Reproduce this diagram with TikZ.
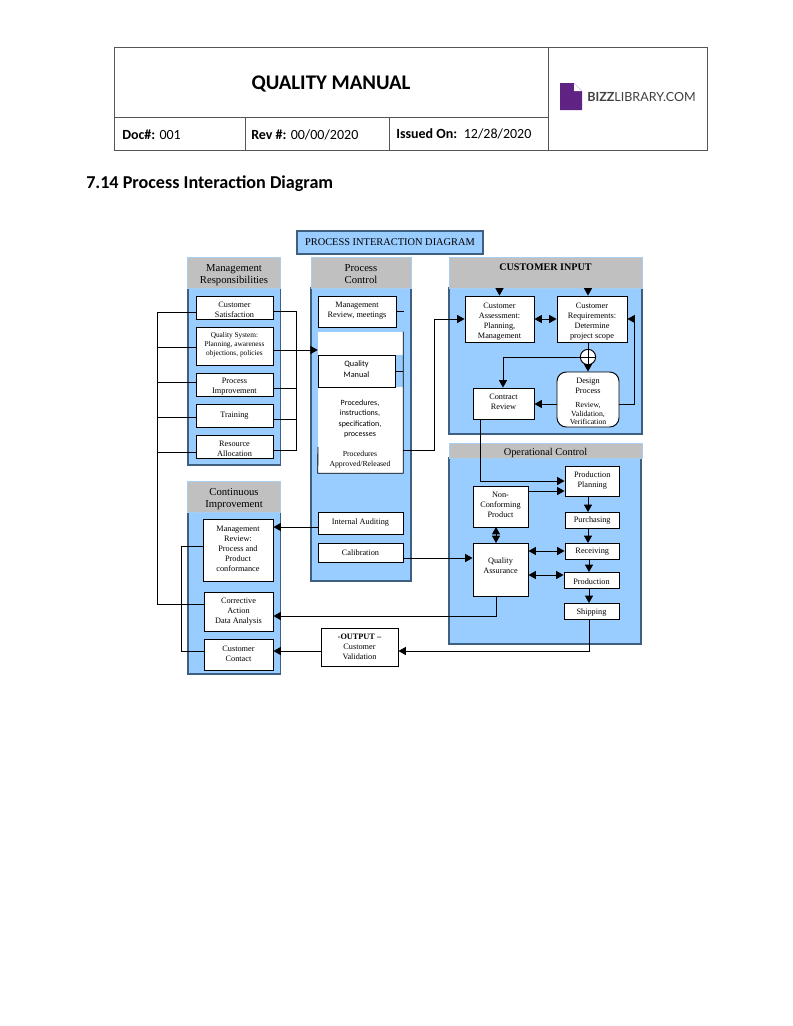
\documentclass[tikz,border=0pt]{standalone}
\usepackage{fontspec}
\setmainfont{Liberation Serif}
\newfontfamily\calibri{Carlito}
\newfontfamily\logofont{Lato}
\usetikzlibrary{arrows.meta,calc}
\definecolor{panelblue}{HTML}{99CCFF}
\definecolor{headgray}{HTML}{C0C0C0}
\definecolor{panelline}{HTML}{3F5F80}
\definecolor{headline}{HTML}{A9CDEF}
\definecolor{logopurple}{HTML}{5F2483}
\definecolor{tablegray}{HTML}{555555}
\def\txtdy{0pt}
\newcommand{\pxbox}[7][]{%
  \pgfmathsetmacro\pxcx{(#3+#5)/2}\pgfmathsetmacro\pxcy{(#4+#6)/2}%
  \pgfmathsetmacro\pxw{(#5-#3)*0.75}\pgfmathsetmacro\pxh{(#6-#4)*0.75}%
  \node[#1,minimum width=\pxw pt,minimum height=\pxh pt] (#2) at (\pxcx,\pxcy) {};
  \node[#1,draw=none,fill=none,yshift=\txtdy] (#2-t) at (\pxcx,\pxcy) {#7};}
\tikzset{
  x=0.75pt,y=-0.75pt,
  txt dy/.store in=\txtdy,
  panel/.style={draw=panelline,fill=panelblue,line width=0.8pt,inner sep=0pt},
  headbox/.style={draw=headline,fill=headgray,line width=0.6pt,inner sep=0pt,align=center,font=\fontsize{8}{9}\selectfont,txt dy=-2pt},
  wbox/.style={draw=black,fill=white,line width=0.7pt,inner sep=0pt,align=center,font=\fontsize{6.2}{7.5}\selectfont},
  tiny text/.style={inner sep=0pt,align=center,font=\fontsize{6.2}{7.5}\selectfont},
  cell/.style={draw=tablegray,line width=0.6pt,inner sep=0pt},
  celltext/.style={inner sep=0pt,anchor=base west,font=\calibri\fontsize{10.5}{12}\selectfont},
  link/.style={draw=black,line width=0.65pt},
  arr/.style={link,-{Triangle[length=5.5pt,width=6pt]}},
  arrb/.style={link,{Triangle[length=5.5pt,width=6pt]}-{Triangle[length=5.5pt,width=6pt]}},
}
\begin{document}
\begin{tikzpicture}
\useasboundingbox (0,0) rectangle (793,1026);
\fill[white] (0,0) rectangle (793,1026);
% --- page header table
\pxbox[cell]{titlecell}{114}{47}{548}{117}{}
\pxbox[cell]{logocell}{548}{47}{707}{150}{}
\pxbox[cell]{doccell}{114}{117}{245}{150}{}
\pxbox[cell]{revcell}{245}{117}{389}{150}{}
\pxbox[cell]{issuedcell}{389}{117}{548}{150}{}
\node[inner sep=0pt,font=\calibri\bfseries\fontsize{15.6}{18}\selectfont] (manual) at (331,83.5) {QUALITY MANUAL};
\node[celltext] (doc) at (122,139) {\textbf{Doc\#:} 001};
\node[celltext] (rev) at (251,139) {\textbf{Rev \#:} 00/00/2020};
\node[celltext] (issued) at (396,138) {\textbf{Issued On:}\, 12/28/2020};
\fill[logopurple] (560,83) -- (574,83) -- (582,91) -- (582,110) -- (560,110) -- cycle;
\fill[white] (574,83) -- (574,91) -- (582,91) -- cycle;
\node[inner sep=0pt,anchor=west,text=black!75,font=\logofont\fontsize{9.4}{11}\selectfont] (logo) at (587,97) {\textbf{BIZZ}LIBRARY.COM};
\node[inner sep=0pt,anchor=base west,font=\calibri\bfseries\fontsize{13.6}{15}\selectfont] (heading) at (86,188) {7.14 Process Interaction Diagram};
% --- title
\pxbox[draw=panelline,fill=panelblue,line width=0.8pt,inner sep=0pt,font=\fontsize{7.8}{9}\selectfont,txt dy=0.5pt]{diagtitle}{297}{231}{483}{254}{PROCESS INTERACTION DIAGRAM}
% --- panels
\pxbox[panel]{mpanel}{188}{288}{280.5}{465}{}
\pxbox[headbox]{mhead}{187.5}{257}{280.5}{288}{Management\\Responsibilities}
\pxbox[panel]{ppanel}{311}{288}{411}{581}{}
\pxbox[headbox,txt dy=-1pt]{phead}{311}{257}{411}{288}{Process\\Control}
\pxbox[panel]{cpanel}{449}{288}{642}{434}{}
\pxbox[headbox,font=\bfseries\fontsize{7.6}{9}\selectfont,txt dy=4pt]{chead}{449}{257}{642}{288}{CUSTOMER INPUT}
\pxbox[panel]{opanel}{449}{458}{641}{644}{}
\pxbox[headbox,font=\fontsize{7.8}{9}\selectfont,txt dy=-1.5pt]{ohead}{449}{443}{642}{458}{Operational Control}
\pxbox[panel]{ipanel}{188}{512}{280.5}{674}{}
\pxbox[headbox]{ihead}{187.5}{481}{280.5}{512}{Continuous\\Improvement}
% --- management responsibilities
\pxbox[wbox,txt dy=-1.5pt]{cs}{196}{296}{273}{319}{Customer\\Satisfaction}
\pxbox[wbox,font=\fontsize{5.5}{6.7}\selectfont,txt dy=0.75pt]{qs}{196}{327}{273}{365}{Quality System:\\Planning, awareness\\objections, policies}
\pxbox[wbox,txt dy=-1.5pt]{pi}{196}{373}{273}{396}{Process\\Improvement}
\pxbox[wbox]{tr}{196}{404}{273}{427}{Training}
\pxbox[wbox,txt dy=-1.5pt]{ra}{196}{435}{273}{458}{Resource\\Allocation}
% --- process control
\pxbox[wbox,txt dy=0.75pt]{mr}{318}{296}{396}{327}{Management\\Review, meetings}
\pxbox[draw=none,fill=white,inner sep=0pt]{sheet}{318}{332}{403}{473}{}
\fill[panelblue] (395,355) rectangle (403,387);
\pxbox[wbox,font=\calibri\fontsize{6.2}{7.8}\selectfont,txt dy=1.5pt]{qm}{318}{355}{395}{387}{Quality\\Manual}
\node[tiny text,font=\calibri\fontsize{6}{7.85}\selectfont] (proc) at (360,419) {Procedures,\\instructions,\\specification,\\processes};
\node[tiny text,font=\fontsize{5.8}{7.5}\selectfont] (appr) at (360,459.5) {Procedures\\Approved/Released};
\pxbox[wbox]{ia}{318}{512}{403}{534}{Internal Auditing}
\pxbox[wbox]{cal}{318}{543}{403}{562}{Calibration}
\draw[link] (sheet.north east) -- (sheet.south east) -- (sheet.south west) -- (318,447);
\draw[link] (qm.east |- 0,371) -- (sheet.east |- 0,371);
\draw[link] (mr.east |- 0,311) -- (403.5,311);
% --- customer input
\pxbox[wbox,txt dy=-1.9pt]{ca}{465}{296}{534}{342}{Customer\\Assessment:\\Planning,\\Management}
\pxbox[wbox,txt dy=-1.9pt]{rq}{557}{296}{627}{342}{Customer\\Requirements:\\Determine\\project scope}
\pxbox[wbox,txt dy=1.5pt]{contract}{473}{388}{534}{419}{Contract\\Review}
\pxbox[wbox,rounded corners=7pt]{design}{557}{372}{619}{427}{}
\node[tiny text] (dtop) at (588,386) {Design\\Process};
\node[tiny text,font=\fontsize{5.8}{6.6}\selectfont] (dbot) at (588,413.5) {Review,\\Validation,\\Verification};
\node[draw=black,fill=white,circle,line width=0.7pt,inner sep=0pt,minimum size=11.5pt] (sum) at (588,357) {};
\draw[link] (sum.north) -- (sum.south);
\draw[link] (sum.west) -- (sum.east);
% --- operational control
\pxbox[wbox]{pp}{565}{466}{619.5}{496}{Production\\Planning}
\pxbox[wbox,txt dy=1.5pt]{nc}{473}{486}{528}{527}{Non-\\Conforming\\Product}
\pxbox[wbox,txt dy=-0.4pt]{pur}{565}{512}{619.5}{528}{Purchasing}
\pxbox[wbox,txt dy=-0.4pt]{rec}{565}{543}{619.5}{559}{Receiving}
\pxbox[wbox,txt dy=-1pt]{prod}{564}{572}{619}{588}{Production}
\pxbox[wbox,txt dy=-1.5pt]{ship}{564}{603}{619}{619}{Shipping}
\pxbox[wbox,text depth=9pt,txt dy=-1.5pt]{qa}{473}{543}{528}{596}{Quality\\Assurance}
% --- continuous improvement
\pxbox[wbox,txt dy=0.75pt]{mrv}{203}{519}{273}{581}{Management\\Review:\\Process and\\Product\\conformance}
\pxbox[wbox]{corr}{204}{592}{273}{631}{Corrective\\Action\\Data Analysis}
\pxbox[wbox,txt dy=0.75pt]{cc}{204}{639}{273}{670}{Customer\\Contact}
\pxbox[wbox]{out}{321}{628}{398}{666}{\textbf{-OUTPUT –}\\Customer\\Validation}
% --- connectors: management buses
\coordinate (busL) at (157,312);
\coordinate (busR) at (296,311);
\coordinate (busI) at (181,546);
\draw[link] (cs.west |- 0,312) -- (busL) -- (busL |- 0,604) -- (corr.west |- 0,604);
\draw[link] (qs.west |- 0,347) -- (busL |- 0,347);
\draw[link] (pi.west |- 0,382) -- (busL |- 0,382);
\draw[link] (tr.west |- 0,417) -- (busL |- 0,417);
\draw[link] (ra.west |- 0,452) -- (busL |- 0,452);
\draw[link] (cs.east |- 0,311) -- (busR) -- (busR |- 0,450) -- (ra.east |- 0,450);
\draw[link] (pi.east |- 0,388) -- (busR |- 0,388);
\draw[link] (tr.east |- 0,419) -- (busR |- 0,419);
\draw[arr] (qs.east |- 0,350) -- (sheet.west |- 0,350);
\draw[link] (mrv.west |- 0,546) -- (busI) -- (busI |- 0,651) -- (cc.west |- 0,651);
% --- connectors: process control
\coordinate (pcR) at (434,450);
\draw[arr] (sheet.east |- pcR) -- (pcR) -- (pcR |- ca.west) -- (ca.west);
\draw[arr] (ia.west |- 0,527) -- (mrv.east |- 0,527);
\draw[arr] (cal.east |- 0,558) -- (qa.west |- 0,558);
% --- connectors: customer input
\draw[arr] (ca.north |- chead.south) -- (ca.north);
\draw[arr] (sum.north |- chead.south) -- (sum.north |- rq.north);
\draw[arrb] (ca.east) -- (rq.west);
\draw[link] (sum.north |- rq.south) -- (sum.north);
\draw[arr] (sum.south) -- (sum.south |- design.north);
\coordinate (crL) at (503,357);
\draw[arr] (sum.west) -- (crL) -- (crL |- contract.north);
\draw[arr] (design.west |- 0,404) -- (contract.east |- 0,404);
\coordinate (drR) at (634,404);
\draw[arr] (design.east |- drR) -- (drR) -- (drR |- rq.east) -- (rq.east);
\coordinate (coD) at (480,481);
\draw[arr] (coD |- contract.south) -- (coD) -- (pp.west |- coD);
% --- connectors: operational control
\draw[arr] (nc.east |- 0,491) -- (pp.west |- 0,491);
\draw[arrb] (496,527) -- (496,543);
\draw[arrb] (qa.east |- rec.west) -- (rec.west);
\draw[arrb] (qa.east |- 0,575) -- (prod.west |- 0,575);
\draw[arr] (588,496) -- (588,512);
\draw[arr] (588,528) -- (588,543);
\draw[arr] (589,559) -- (589,572);
\draw[arr] (589,588) -- (589,603);
\coordinate (qaD) at (496,616);
\draw[arr] (qaD |- qa.south) -- (qaD) -- (corr.east |- qaD);
\coordinate (shD) at (589,651);
\draw[arr] (shD |- ship.south) -- (shD) -- (out.east |- shD);
\draw[arr] (out.west |- 0,651) -- (cc.east |- 0,651);
\end{tikzpicture}
\end{document}
